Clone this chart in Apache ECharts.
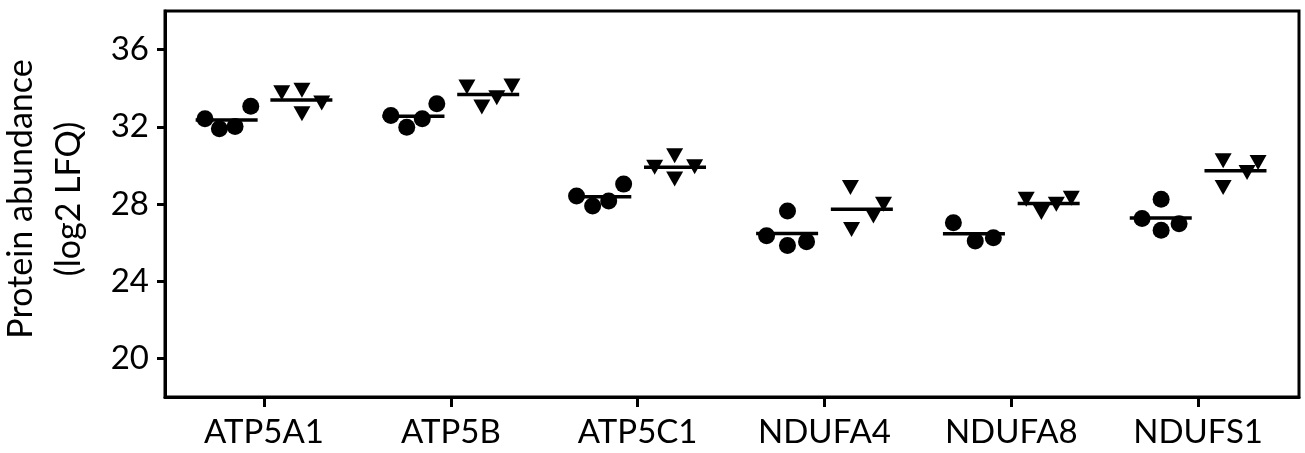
<!DOCTYPE html>
<html><head><meta charset="utf-8">
<script src="https://cdn.jsdelivr.net/npm/echarts@6/dist/echarts.min.js"></script>
<style>html,body{margin:0;padding:0;background:#fff}#c{width:1305px;height:453px}</style>
</head><body><div id="c"></div>
<script>
// ---- data ----
const genes = ['ATP5A1', 'ATP5B', 'ATP5C1', 'NDUFA4', 'NDUFA8', 'NDUFS1'];
const yTicks = [20, 24, 28, 32, 36];
// group 1 (circles)
const circATP5A1 = [32.42, 31.90, 32.02, 33.07];
const circATP5B  = [32.59, 31.98, 32.42, 33.20];
const circATP5C1 = [28.42, 27.90, 28.16, 29.03];
const circNDUFA4 = [26.36, 27.64, 25.85, 26.05];
const circNDUFA8 = [27.03, 26.08, 26.25];
const circNDUFS1 = [27.25, 28.25, 26.64, 26.98];
// group 2 (triangles)
const triATP5A1 = [33.76, 33.89, 32.68, 33.23];
const triATP5B  = [34.06, 33.02, 33.51, 34.12];
const triATP5C1 = [29.90, 30.50, 29.29, 29.93];
const triNDUFA4 = [28.85, 26.68, 27.38, 27.99];
const triNDUFA8 = [28.25, 27.56, 27.99, 28.30];
const triNDUFS1 = [30.24, 28.85, 29.63, 30.15];

// ---- layout: horizontal spread of replicate points (fraction of category width) ----
const spreadCirc = [[-0.316,-0.239,-0.155,-0.071],[-0.321,-0.236,-0.153,-0.075],[-0.327,-0.241,-0.155,-0.075],[-0.31,-0.198,-0.198,-0.096],[-0.31,-0.193,-0.096],[-0.30,-0.198,-0.198,-0.102]];
const spreadTri = [[0.095,0.203,0.203,0.309],[0.086,0.166,0.246,0.327],[0.091,0.198,0.198,0.305],[0.139,0.145,0.262,0.316],[0.08,0.161,0.241,0.321],[0.134,0.134,0.262,0.321]];
const meanShift = 0.2;

const circAll = [circATP5A1, circATP5B, circATP5C1, circNDUFA4, circNDUFA8, circNDUFS1];
const triAll = [triATP5A1, triATP5B, triATP5C1, triNDUFA4, triNDUFA8, triNDUFS1];
const mean = a => a.reduce((s, v) => s + v, 0) / a.length;

const circPts = [], triPts = [], meanPts = [];
circAll.forEach((arr, i) => {
  arr.forEach((v, j) => circPts.push([i + spreadCirc[i][j], v]));
  meanPts.push([i - meanShift, mean(arr)]);
});
triAll.forEach((arr, i) => {
  arr.forEach((v, j) => triPts.push([i + spreadTri[i][j], v]));
  meanPts.push([i + meanShift, mean(arr)]);
});

const FONT = 'Lato';
const FS = 33;
const chart = echarts.init(document.getElementById('c'), null, {renderer: 'canvas'});
chart.setOption({
  animation: false,
  backgroundColor: '#fff',
  grid: {left: 165, right: 6, top: 11, bottom: 56, show: true, borderColor: '#000', borderWidth: 3,
    containLabel: false, outerBoundsMode: 'none'},
  xAxis: {
    type: 'value', min: -0.53, max: 5.54,
    splitLine: {show: false},
    axisLine: {show: true, onZero: false, lineStyle: {color: '#000', width: 3}},
    axisTick: {show: true, customValues: genes.map((g, i) => i), length: 10, lineStyle: {color: '#000', width: 3}},
    axisLabel: {show: true, customValues: genes.map((g, i) => i), formatter: v => genes[Math.round(v)] || '',
      color: '#000', fontFamily: FONT, fontSize: FS, margin: 19}
  },
  yAxis: {
    type: 'value', min: 18, max: 38,
    splitLine: {show: false},
    axisLine: {show: true, onZero: false, lineStyle: {color: '#000', width: 3}},
    axisTick: {show: true, customValues: yTicks, length: 8, lineStyle: {color: '#000', width: 3}},
    axisLabel: {show: true, customValues: yTicks, color: '#000', fontFamily: FONT, fontSize: FS, margin: 16},
    name: 'Protein abundance\n(log2 LFQ)', nameLocation: 'middle', nameRotate: 90, nameGap: 72,
    nameTextStyle: {color: '#000', fontFamily: FONT, fontSize: 34, lineHeight: 48, align: 'center', padding: [0, 0, 0, 10]}
  },
  series: [
    {type: 'scatter', data: meanPts, symbol: 'rect', symbolSize: [62, 3.5], itemStyle: {color: '#000', opacity: 1}, silent: true, z: 2},
    {type: 'scatter', data: circPts, symbol: 'circle', symbolSize: 17, itemStyle: {color: '#000', opacity: 1}, silent: true, z: 3},
    {type: 'scatter', data: triPts, symbol: 'triangle', symbolRotate: 180, symbolSize: [17, 15], itemStyle: {color: '#000', opacity: 1}, silent: true, z: 3}
  ]
});
</script>
</body></html>
